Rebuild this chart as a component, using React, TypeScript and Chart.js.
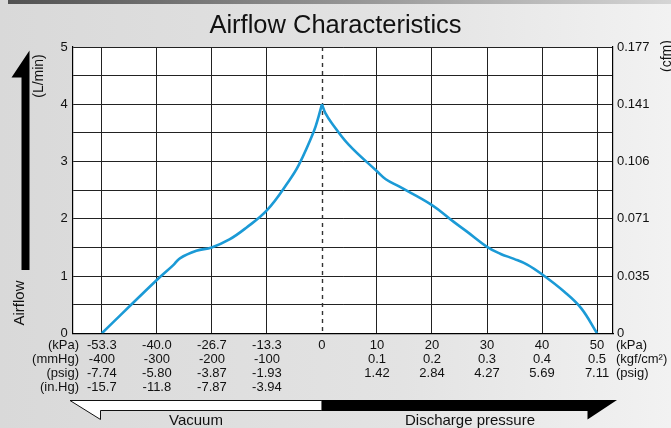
import React, { useEffect, useRef } from 'react';
import { Chart, registerables } from 'chart.js';

Chart.register(...registerables);

// ---- Data ----
const vacuumKPa = [-53.3, -40.0, -36.0, -34.4, -30.4, -26.7, -22.4, -18.4, -13.3, -8.0, -5.6, -2.0, -0.8, 0];
const vacuumFlow = [0, 0.93, 1.19, 1.31, 1.44, 1.5, 1.64, 1.84, 2.15, 2.66, 2.94, 3.52, 3.79, 4.0];

const dischargeKPa = [0, 0.6, 1.8, 4.9, 10, 11.6, 14.1, 20, 23.9, 26.3, 30, 32.4, 34.9, 37.3, 40, 44, 47.1, 50];
const dischargeFlow = [4.0, 3.85, 3.67, 3.29, 2.83, 2.69, 2.56, 2.24, 1.95, 1.78, 1.51, 1.39, 1.3, 1.2, 1.03, 0.73, 0.44, 0];

const flowTicks = [0, 1, 2, 3, 4, 5];
const cfmLabels = ['0', '0.035', '0.071', '0.106', '0.141', '0.177'];

const vacKPaLabels = ['-53.3', '-40.0', '-26.7', '-13.3'];
const vacMmHgLabels = ['-400', '-300', '-200', '-100'];
const vacPsigLabels = ['-7.74', '-5.80', '-3.87', '-1.93'];
const vacInHgLabels = ['-15.7', '-11.8', '-7.87', '-3.94'];

const disKPaLabels = ['10', '20', '30', '40', '50'];
const disKgfLabels = ['0.1', '0.2', '0.3', '0.4', '0.5'];
const disPsigLabels = ['1.42', '2.84', '4.27', '5.69', '7.11'];

const vacRowNames = ['(kPa)', '(mmHg)', '(psig)', '(in.Hg)'];
const disRowNames = ['(kPa)', '(kgf/cm²)', '(psig)'];

const TITLE = 'Airflow Characteristics';
const FONT = '"Liberation Sans", Arial, Helvetica, sans-serif';
const CURVE = '#1b9ad6';

// grid position: each vacuum division = 13.33 kPa, each discharge division = 10 kPa
const pos = (k: number) => (k < 0 ? k / (53.3 / 4) : k / 10);

const LH = 14;

const decor = {
  id: 'decor',
  beforeDraw(chart: any) {
    const { ctx, width, height, chartArea: a } = chart;
    ctx.save();
    const g = ctx.createLinearGradient(0, 0, width, 0);
    g.addColorStop(0, '#d9d9d9');
    g.addColorStop(0.6, '#e3e3e3');
    g.addColorStop(1, '#f2f2f2');
    ctx.fillStyle = g;
    ctx.fillRect(0, 0, width, height);
    const b = ctx.createLinearGradient(0, 0, width, 0);
    b.addColorStop(0, '#505050');
    b.addColorStop(1, '#d5d5d5');
    ctx.fillStyle = b;
    ctx.fillRect(8, 0, width - 8, 4);
    ctx.fillStyle = '#ffffff';
    ctx.fillRect(a.left, a.top, a.right - a.left, a.bottom - a.top);
    ctx.restore();
  },
  beforeDatasetsDraw(chart: any) {
    const { ctx, chartArea: a, scales } = chart;
    const x = Math.round(scales.x.getPixelForValue(0)) + 0.5;
    ctx.save();
    ctx.strokeStyle = '#333';
    ctx.lineWidth = 1.4;
    ctx.setLineDash([4, 4]);
    ctx.beginPath();
    ctx.moveTo(x, a.top);
    ctx.lineTo(x, a.bottom);
    ctx.stroke();
    ctx.restore();
  },
  afterDraw(chart: any) {
    const { ctx, chartArea: a, scales } = chart;
    const x0 = scales.x.getPixelForValue(0);
    ctx.save();
    ctx.fillStyle = '#111';
    ctx.font = `13px ${FONT}`;
    ctx.textBaseline = 'middle';
    const y0 = a.bottom + 12;
    ctx.textAlign = 'right';
    vacRowNames.forEach((t, i) => ctx.fillText(t, 79, y0 + i * LH));
    ctx.textAlign = 'left';
    disRowNames.forEach((t, i) => ctx.fillText(t, a.right + 3, y0 + i * LH));

    // axis titles
    ctx.font = `14px ${FONT}`;
    ctx.textAlign = 'center';
    ctx.save();
    ctx.translate(39, 76);
    ctx.rotate(-Math.PI / 2);
    ctx.fillText('(L/min)', 0, 0);
    ctx.restore();
    ctx.save();
    ctx.translate(667, 56);
    ctx.rotate(-Math.PI / 2);
    ctx.fillText('(cfm)', 0, 0);
    ctx.restore();
    ctx.font = `15px ${FONT}`;
    ctx.save();
    ctx.translate(20, 303);
    ctx.rotate(-Math.PI / 2);
    ctx.fillText('Airflow', 0, 0);
    ctx.restore();

    // vertical arrow
    ctx.fillStyle = '#000';
    ctx.beginPath();
    ctx.moveTo(29.5, 50.5);
    ctx.lineTo(29.5, 270);
    ctx.lineTo(21.5, 270);
    ctx.lineTo(21.5, 77.5);
    ctx.lineTo(11.5, 77.5);
    ctx.closePath();
    ctx.fill();

    // vacuum (white) arrow
    ctx.beginPath();
    ctx.moveTo(70, 400.5);
    ctx.lineTo(x0, 400.5);
    ctx.lineTo(x0, 410.5);
    ctx.lineTo(100.5, 410.5);
    ctx.lineTo(100.5, 419.5);
    ctx.closePath();
    ctx.fillStyle = '#fff';
    ctx.fill();
    ctx.strokeStyle = '#111';
    ctx.lineWidth = 1;
    ctx.stroke();

    // discharge (black) arrow
    ctx.beginPath();
    ctx.moveTo(x0, 400);
    ctx.lineTo(617, 400);
    ctx.lineTo(587.5, 419.5);
    ctx.lineTo(587.5, 411);
    ctx.lineTo(x0, 411);
    ctx.closePath();
    ctx.fillStyle = '#000';
    ctx.fill();

    ctx.fillStyle = '#111';
    ctx.font = `15px ${FONT}`;
    ctx.textAlign = 'center';
    ctx.textBaseline = 'middle';
    ctx.fillText('Vacuum', 196, 421);
    ctx.fillText('Discharge pressure', 470, 421);
    ctx.restore();
  },
};

function xTickLabel(v: number): string | string[] {
  if (v < 0) {
    const i = v + 4;
    return [vacKPaLabels[i], vacMmHgLabels[i], vacPsigLabels[i], vacInHgLabels[i]];
  }
  if (v === 0) return ['0'];
  const j = v - 1;
  return [disKPaLabels[j], disKgfLabels[j], disPsigLabels[j]];
}

export default function App() {
  const ref = useRef<HTMLCanvasElement>(null);
  useEffect(() => {
    if (!ref.current) return;
    const gridColor = '#222';
    const curveDs = (label: string, ks: number[], fs: number[]) => ({
      label,
      data: ks.map((k, i) => ({ x: pos(k), y: fs[i] })),
      borderColor: CURVE,
      borderWidth: 2.6,
      pointRadius: 0,
      tension: 0.4,
      fill: false,
    });
    const chart = new Chart(ref.current, {
      type: 'line',
      data: {
        datasets: [
          curveDs('Vacuum', vacuumKPa, vacuumFlow),
          curveDs('Discharge', dischargeKPa, dischargeFlow),
        ],
      },
      options: {
        animation: false,
        responsive: false,
        maintainAspectRatio: false,
        layout: { padding: 0 },
        plugins: {
          legend: { display: false },
          tooltip: { enabled: false },
          title: {
            display: true,
            text: TITLE,
            color: '#111',
            font: { family: FONT, size: 25.5, weight: 'normal', lineHeight: 1.2 },
            padding: { top: 11, bottom: 5.4 },
          },
        },
        scales: {
          x: {
            type: 'linear',
            min: -4.53,
            max: 5.29,
            afterBuildTicks: (s: any) => {
              s.ticks = [-4, -3, -2, -1, 0, 1, 2, 3, 4, 5].map((v) => ({ value: v }));
            },
            afterFit: (s: any) => {
              s.height = 94.7;
            },
            grid: {
              color: (c: any) => (c.tick && c.tick.value === 0 ? 'rgba(0,0,0,0)' : gridColor),
              lineWidth: 1,
              drawTicks: false,
            },
            border: { display: true, color: '#000', width: 1.2 },
            ticks: {
              autoSkip: false,
              maxRotation: 0,
              padding: 5,
              color: '#111',
              font: { family: FONT, size: 13, lineHeight: LH / 13 },
              callback: (v: any) => xTickLabel(Number(v)),
            },
          },
          y: {
            type: 'linear',
            position: 'left',
            min: 0,
            max: 5,
            afterFit: (s: any) => {
              s.width = 72.7;
            },
            grid: { color: gridColor, lineWidth: 1, drawTicks: false },
            border: { display: true, color: '#000', width: 1.2 },
            ticks: {
              stepSize: 0.5,
              autoSkip: false,
              padding: 5,
              color: '#111',
              font: { family: FONT, size: 13 },
              callback: (v: any) => (flowTicks.includes(Number(v)) ? String(v) : ''),
            },
          },
          y2: {
            type: 'linear',
            position: 'right',
            min: 0,
            max: 5,
            afterFit: (s: any) => {
              s.width = 58;
            },
            grid: { drawOnChartArea: false, drawTicks: false },
            border: { display: true, color: '#000', width: 1.2 },
            ticks: {
              stepSize: 0.5,
              autoSkip: false,
              padding: 4,
              color: '#111',
              font: { family: FONT, size: 13 },
              callback: (v: any) => {
                const i = flowTicks.indexOf(Number(v));
                return i >= 0 ? cfmLabels[i] : '';
              },
            },
          },
        },
      },
      plugins: [decor],
    } as any);
    return () => chart.destroy();
  }, []);
  return (
    <div style={{ position: 'fixed', left: 0, top: 0, width: 671, height: 428 }}>
      <canvas ref={ref} width={671} height={428} style={{ width: 671, height: 428, display: 'block' }} />
    </div>
  );
}
